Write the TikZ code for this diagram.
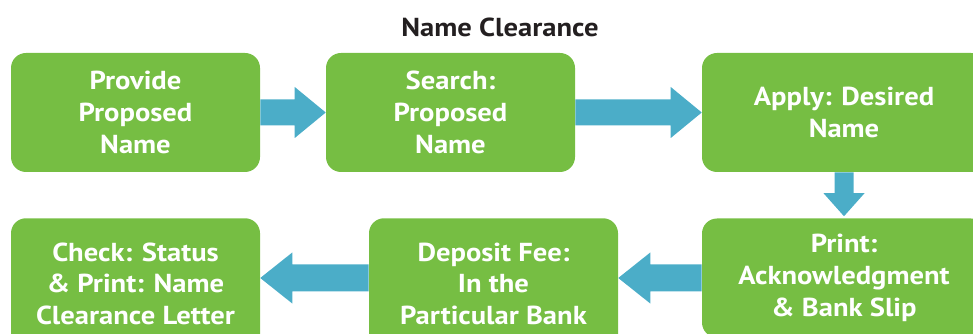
\documentclass[tikz,border=0pt]{standalone}
\usepackage{fontspec}
\setmainfont{PT Sans}[FakeStretch=1.1]
\usetikzlibrary{calc}
\definecolor{boxgreen}{HTML}{76BE43}
\definecolor{arrowblue}{HTML}{4BADC8}
\definecolor{titlegray}{HTML}{231F20}
\newcommand\blockarrowright[2]{%
  \fill[arrowblue] ($(#1.east)+(0,-13)$) -- ($(#2.west)+(-31,-13)$) -- ($(#2.west)+(-31,-25.5)$) -- (#2.west)
    -- ($(#2.west)+(-31,25.5)$) -- ($(#2.west)+(-31,13)$) -- ($(#1.east)+(0,13)$) -- cycle;}
% left arrow: tail at #1 west, tip at #2 east, on the height of anchor #3
\newcommand\blockarrowleft[3]{%
  \coordinate (tailpt) at (#1.west |- #3);
  \coordinate (tippt) at (#2.east |- #3);
  \fill[arrowblue] ($(tailpt)+(0,-13.5)$) -- ($(tippt)+(32,-13.5)$) -- ($(tippt)+(32,-25.5)$) -- (tippt)
    -- ($(tippt)+(32,25.5)$) -- ($(tippt)+(32,13.5)$) -- ($(tailpt)+(0,13.5)$) -- cycle;}
\newcommand\blockarrowdown[2]{%
  \fill[arrowblue] ($(#1.south)+(-9.5,0)$) -- ($(#2.north)+(-9.5,-25)$) -- ($(#2.north)+(-20.5,-25)$) -- ($(#2.north)+(0,-2)$)
    -- ($(#2.north)+(20.5,-25)$) -- ($(#2.north)+(9.5,-25)$) -- ($(#1.south)+(9.5,0)$) -- cycle;}
\begin{document}
\begin{tikzpicture}[x=0.75pt,y=-0.75pt,
  stepbox/.style={fill=boxgreen, rounded corners=11.25pt, minimum width=186.75pt,
    minimum height=89.25pt, inner sep=0pt, align=center, text=white,
    font=\bfseries\fontsize{19.5}{23.75}\selectfont},
  widebox/.style={stepbox, minimum width=213pt},
  tallbox/.style={stepbox, anchor=north, minimum height=98.25pt},
  titletext/.style={text=titlegray, font=\bfseries\fontsize{19.5}{22}\selectfont, inner sep=0pt}]
\useasboundingbox (0,0) rectangle (973,334);
\clip (0,0) rectangle (973,334);
\node[titletext] (title) at (500,27) {Name Clearance};
\node[stepbox] (b1) at (135.5,112.5) {Provide\\Proposed\\Name};
\node[stepbox] (b2) at (450.5,112.5) {Search:\\Proposed\\Name};
\node[widebox] (b3) at (844,112.5) {Apply: Desired\\Name};
\node[widebox] (b4) at (844,278) {Print:\\Acknowledgment\\\& Bank Slip};
\node[tallbox] (b5) at (493.5,218) {Deposit Fee:\\In the\\Particular Bank};
\node[tallbox] (b6) at (135.5,218) {Check: Status\\\& Print: Name\\Clearance Letter};
\blockarrowright{b1}{b2}
\blockarrowright{b2}{b3}
\blockarrowdown{b3}{b4}
\blockarrowleft{b4}{b5}{b4.west}
\blockarrowleft{b5}{b6}{b4.west}
\end{tikzpicture}
\end{document}
